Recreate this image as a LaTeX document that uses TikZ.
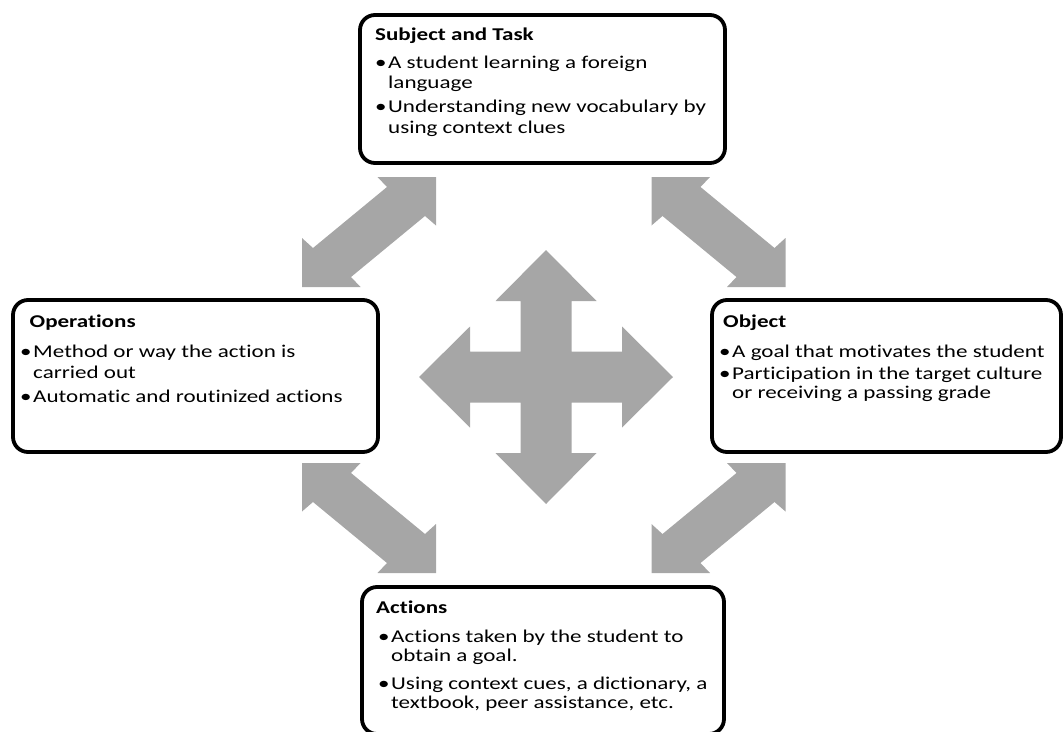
\documentclass[tikz,border=0pt]{standalone}
\usepackage{fontspec}
\setmainfont{Carlito}[FakeStretch=1.28, Ligatures={NoCommon}]
\definecolor{arrowgray}{RGB}{166,166,166}

% bullet list helpers: a top-aligned block whose baseline is its first line
\newcommand{\bodytext}[3]{\vtop{\baselineskip=#1\lineskiplimit=-\maxdimen\lineskip=0pt\def\gap{\vskip #2}#3}}
\newcommand{\itm}[1]{\hbox{\llap{\textbullet\kern1.5pt}#1}}
\newcommand{\cnt}[1]{\hbox{#1}}

\tikzset{
  card/.style={draw=black, line width=3.8pt, rounded corners=15pt, fill=white,
               inner sep=0pt, outer sep=0pt},
  ttl/.style={anchor=base west, inner sep=0pt, font=\fontsize{18}{20}\selectfont\bfseries},
  body/.style={anchor=base west, inner sep=0pt, font=\fontsize{18}{20}\selectfont},
  % double block arrow running lower-left to upper-right
  pics/diagne/.style={code={
    \fill[arrowgray] (134,0) -- (75.5,0) -- (85,10) -- (11,71) -- (0,61) -- (0,110)
      -- (58.5,110) -- (49,100) -- (123,39) -- (134,48.5) -- cycle;}},
  % double block arrow running upper-left to lower-right
  pics/diagnw/.style={code={
    \fill[arrowgray] (0,0) -- (58.5,0) -- (49,10) -- (123,71) -- (134,61) -- (134,110)
      -- (75.5,110) -- (85,100) -- (11,39) -- (0,48.5) -- cycle;}},
  % four-way block arrow centred on the pic origin
  pics/fourway/.style={code={
    \fill[arrowgray] (0,-127) -- (50.5,-76) -- (25.5,-76) -- (25.5,-25.5) -- (76,-25.5)
      -- (76,-50.5) -- (127,0) -- (76,50.5) -- (76,25.5) -- (25.5,25.5) -- (25.5,76)
      -- (50.5,76) -- (0,127) -- (-50.5,76) -- (-25.5,76) -- (-25.5,25.5) -- (-76,25.5)
      -- (-76,50.5) -- (-127,0) -- (-76,-50.5) -- (-76,-25.5) -- (-25.5,-25.5)
      -- (-25.5,-76) -- (-50.5,-76) -- cycle;}},
}

\begin{document}
\begin{tikzpicture}[x=1pt, y=-1pt]
  \useasboundingbox (0,0) rectangle (1063,731);

  % block arrows
  \pic at (302,177) {diagne};
  \pic at (651.5,177) {diagnw};
  \pic at (302,463) {diagnw};
  \pic at (651.5,463) {diagne};
  \pic at (546,377) {fourway};

  % boxes
  \node[card, minimum width=365pt, minimum height=148pt] (task) at (542.5,89) {};
  \node[card, minimum width=365pt, minimum height=152pt] (ops) at (195.5,376) {};
  \node[card, minimum width=349pt, minimum height=152pt] (obj) at (886.5,376) {};
  \node[card, minimum width=362pt, minimum height=147pt] (act) at (543,660.5) {};

  % Subject and Task
  \node[ttl] (task-title) at (375,40) {Subject and Task};
  \node[body] (task-body) at (388,68) {\bodytext{20.5pt}{3.5pt}{%
    \itm{A student learning a foreign}\cnt{language}\gap
    \itm{Understanding new vocabulary by}\cnt{using context clues}}};

  % Operations
  \node[ttl] (ops-title) at (29.5,327) {Operations};
  \node[body] (ops-body) at (33,357) {\bodytext{21pt}{3pt}{%
    \itm{Method or way the action is}\cnt{carried out}\gap
    \itm{Automatic and routinized actions}}};

  % Object
  \node[ttl] (obj-title) at (723,327) {Object};
  \node[body] (obj-body) at (732,357.5) {\bodytext{19.5pt}{2pt}{%
    \itm{A goal that motivates the student}\gap
    \itm{Participation in the target culture}\cnt{or receiving a passing grade}}};

  % Actions
  \node[ttl] (act-title) at (376,613) {Actions};
  \node[body] (act-body) at (391,642) {\bodytext{19.5pt}{8pt}{%
    \itm{Actions taken by the student to}\cnt{obtain a goal.}\gap
    \itm{Using context cues, a dictionary, a}\cnt{textbook, peer assistance, etc.}}};
\end{tikzpicture}
\end{document}
